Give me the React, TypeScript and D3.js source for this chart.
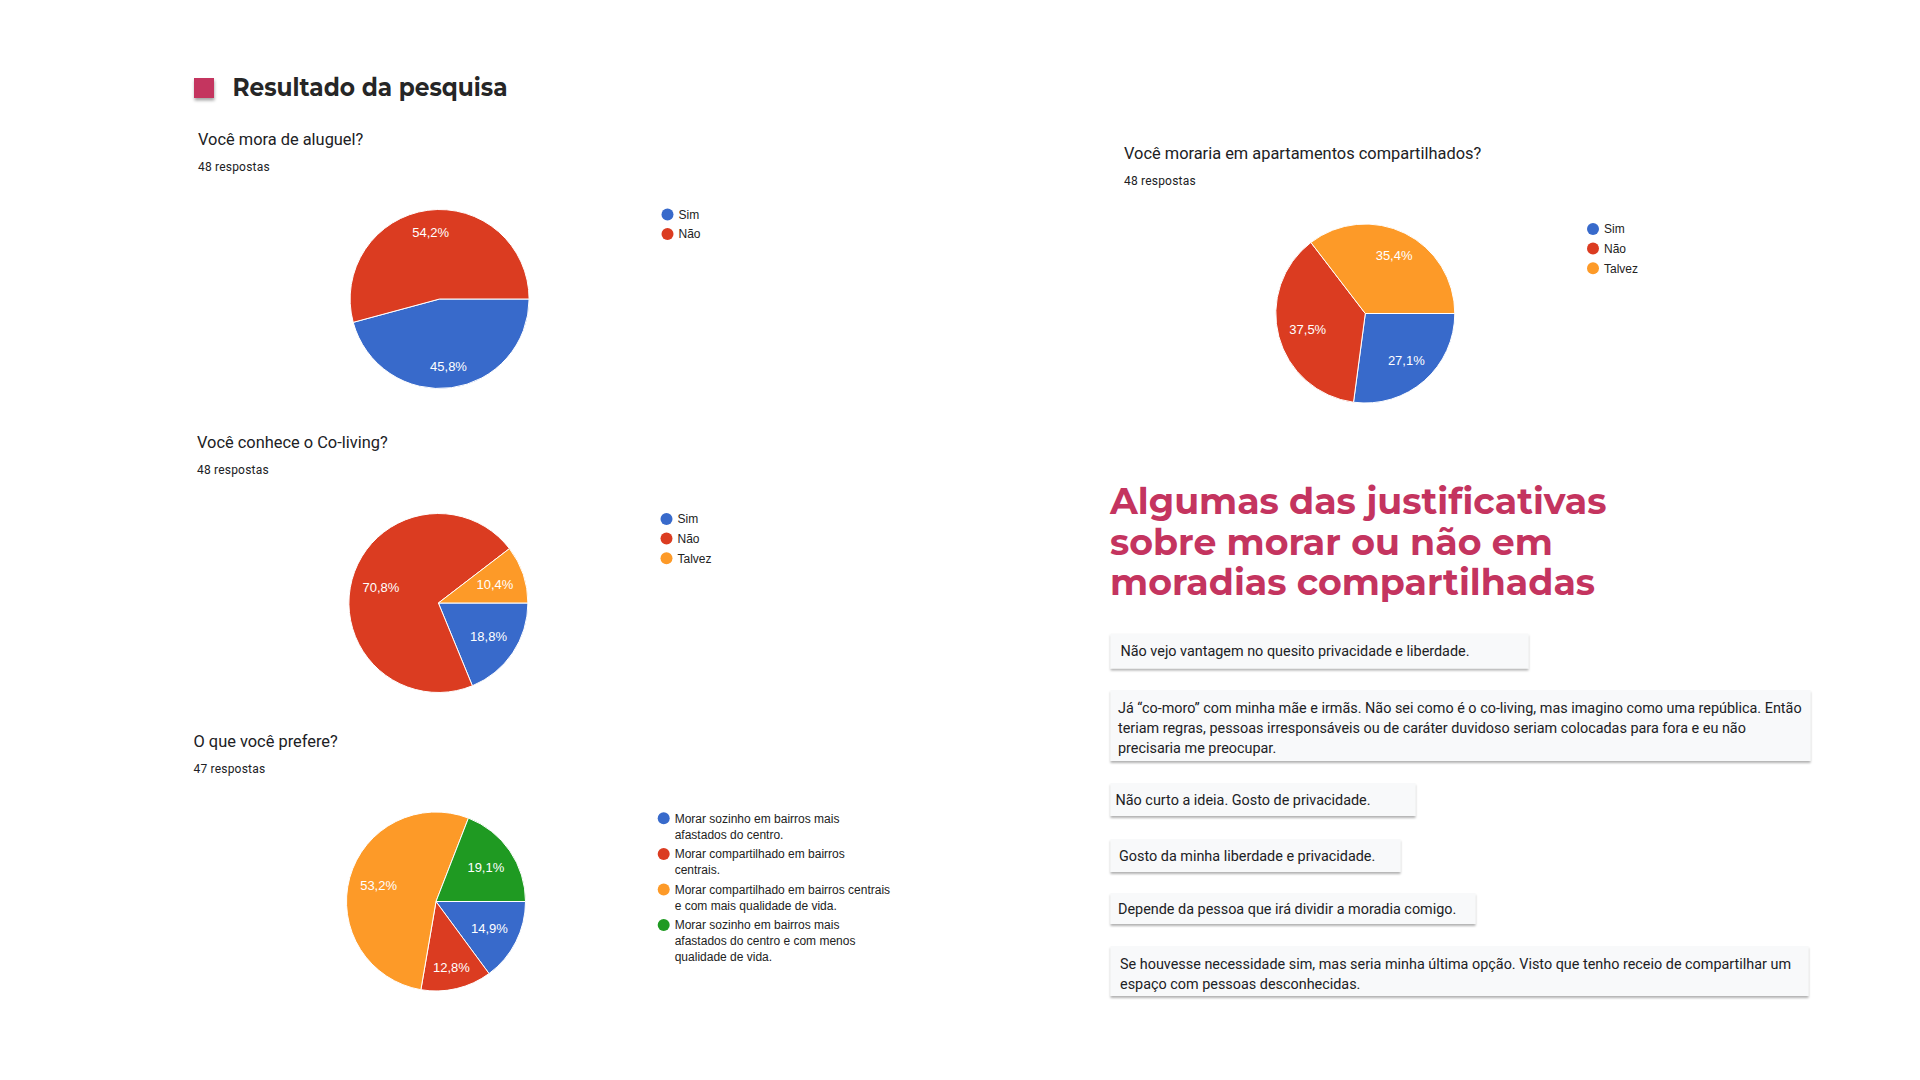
import * as d3 from "d3";
import React, { useEffect, useRef } from "react";

// survey answers, in percent, slice order as Google Forms draws them
const q1Labels = ["Sim", "Não"];
const q1Values = [45.8, 54.2];

const q2Labels = ["Sim", "Não", "Talvez"];
const q2Values = [18.8, 70.8, 10.4];

const q3Labels = [
    ["Morar sozinho em bairros mais", "afastados do centro."],
    ["Morar compartilhado em bairros", "centrais."],
    ["Morar compartilhado em bairros centrais", "e com mais qualidade de vida."],
    ["Morar sozinho em bairros mais", "afastados do centro e com menos", "qualidade de vida."],
];
const q3Values = [14.9, 12.8, 53.2, 19.1];

const q4Labels = ["Sim", "Não", "Talvez"];
const q4Values = [27.1, 37.5, 35.4];

const respostas = [
    ["Não vejo vantagem no quesito privacidade e liberdade."],
    [
        "Já “co-moro” com minha mãe e irmãs. Não sei como é o co-living, mas imagino como uma república. Então",
        "teriam regras, pessoas irresponsáveis ou de caráter duvidoso seriam colocadas para fora e eu não",
        "precisaria me preocupar.",
    ],
    ["Não curto a ideia. Gosto de privacidade."],
    ["Gosto da minha liberdade e privacidade."],
    ["Depende da pessoa que irá dividir a moradia comigo."],
    [
        "Se houvesse necessidade sim, mas seria minha última opção. Visto que tenho receio de compartilhar um",
        "espaço com pessoas desconhecidas.",
    ],
];

const colors = ["#386acb", "#db3c21", "#fd9a28", "#1f9a22"];
const pink = "#c4345f";

function drawPie(svg: any, c: any) {
    const R = 89.5;
    const g = svg.append("g");

    g.append("text")
        .attr("x", c.tx).attr("y", c.ty)
        .attr("font-family", "Roboto, sans-serif").attr("font-size", 16.4)
        .attr("fill", "#202124")
        .text(c.title);
    g.append("text")
        .attr("x", c.tx).attr("y", c.ty + 26)
        .attr("font-family", "Roboto, sans-serif").attr("font-size", 12)
        .attr("letter-spacing", 0.2)
        .attr("fill", "#202124")
        .text(c.n);

    let pie = d3.pie<number>().sort(null)
        .startAngle(Math.PI / 2)
        .endAngle(Math.PI / 2 + 2 * Math.PI);
    let arcs = pie(c.values);
    let arc = d3.arc<any>().innerRadius(0).outerRadius(R);

    // labels sit a bit further out when the slice points up or down
    function labelPos(d: any) {
        let a = (d.startAngle + d.endAngle) / 2;
        let k = R * (0.665 + 0.095 * Math.pow(Math.cos(a), 4));
        return [Math.sin(a) * k, -Math.cos(a) * k];
    }

    let pg = g.append("g").attr("transform", "translate(" + c.cx + "," + c.cy + ")");
    pg.selectAll("path").data(arcs).enter().append("path")
        .attr("d", arc)
        .attr("fill", (d: any, i: number) => colors[i])
        .attr("stroke", "#fff").attr("stroke-width", 1);
    pg.selectAll("text").data(arcs).enter().append("text")
        .attr("transform", (d: any) => "translate(" + labelPos(d) + ")")
        .attr("text-anchor", "middle").attr("dy", "0.36em")
        .attr("font-family", "'Liberation Sans', Arial, sans-serif").attr("font-size", 13)
        .attr("fill", "#fff")
        .text((d: any) => d.data.toFixed(1).replace(".", ",") + "%");

    // legend
    let y = c.ly;
    c.labels.forEach((lab: any, i: number) => {
        let lines = Array.isArray(lab) ? lab : [lab];
        g.append("circle").attr("cx", c.lx).attr("cy", y).attr("r", 6).attr("fill", colors[i]);
        let t = g.append("text")
            .attr("x", c.lx + 11).attr("y", y + 4.3)
            .attr("font-family", "'Liberation Sans', Arial, sans-serif").attr("font-size", 12)
            .attr("fill", "#222");
        lines.forEach((l: string, j: number) => {
            t.append("tspan").attr("x", c.lx + 11).attr("dy", j == 0 ? 0 : 16).text(l);
        });
        y += lines.length * 16 + 3.6;
    });
}

export default function App() {
    const ref = useRef<SVGSVGElement>(null);

    useEffect(() => {
        const svg = d3.select(ref.current);
        svg.selectAll("*").remove();

        let defs = svg.append("defs");
        defs.append("filter").attr("id", "cardShadow")
            .attr("x", "-5%").attr("y", "-20%").attr("width", "110%").attr("height", "150%")
            .append("feDropShadow")
            .attr("dx", 0).attr("dy", 2).attr("stdDeviation", 1.3)
            .attr("flood-color", "#000").attr("flood-opacity", 0.3);
        defs.append("filter").attr("id", "sqShadow")
            .attr("x", "-30%").attr("y", "-30%").attr("width", "170%").attr("height", "170%")
            .append("feDropShadow")
            .attr("dx", 0.5).attr("dy", 2.5).attr("stdDeviation", 1.5)
            .attr("flood-color", "#000").attr("flood-opacity", 0.35);

        svg.append("rect").attr("width", 1920).attr("height", 1080).attr("fill", "#fff");

        // header
        svg.append("rect").attr("x", 194).attr("y", 78).attr("width", 20).attr("height", 20)
            .attr("fill", pink).attr("filter", "url(#sqShadow)");
        svg.append("text").attr("x", 232.5).attr("y", 96)
            .attr("font-family", "Montserrat, 'Open Sans', sans-serif").attr("font-weight", 700)
            .attr("font-size", 24.5).attr("fill", "#262626")
            .attr("textLength", 275).attr("lengthAdjust", "spacingAndGlyphs")
            .text("Resultado da pesquisa");

        const charts = [
            { title: "Você mora de aluguel?", n: "48 respostas", labels: q1Labels, values: q1Values, tx: 198, ty: 144.5, cx: 439.6, cy: 299, lx: 667.5, ly: 214.5 },
            { title: "Você conhece o Co-living?", n: "48 respostas", labels: q2Labels, values: q2Values, tx: 197, ty: 448, cx: 438.4, cy: 603, lx: 666.5, ly: 519 },
            { title: "O que você prefere?", n: "47 respostas", labels: q3Labels, values: q3Values, tx: 193.5, ty: 747, cx: 436, cy: 901.5, lx: 663.7, ly: 818.3 },
            { title: "Você moraria em apartamentos compartilhados?", n: "48 respostas", labels: q4Labels, values: q4Values, tx: 1124, ty: 159, cx: 1365.3, cy: 313.5, lx: 1593, ly: 229 },
        ];
        charts.forEach(c => drawPie(svg, c));

        // justificativas
        const heading = ["Algumas das justificativas", "sobre morar ou não em", "moradias compartilhadas"];
        let h = svg.append("text")
            .attr("font-family", "Montserrat, 'Open Sans', sans-serif").attr("font-weight", 700)
            .attr("font-size", 36.3).attr("fill", pink);
        heading.forEach((l, i) => {
            h.append("tspan").attr("x", 1110).attr("y", 514.3 + i * 40.3).text(l);
        });

        const cards = [
            { y: 633.5, w: 418, h: 35, pad: 10 },
            { y: 690, w: 700, h: 71, pad: 7.5 },
            { y: 783, w: 305, h: 33, pad: 5 },
            { y: 839, w: 290, h: 33, pad: 8.5 },
            { y: 893, w: 365, h: 31, pad: 7.5 },
            { y: 946, w: 698, h: 50, pad: 9.5 },
        ];
        respostas.forEach((lines, i) => {
            let c = cards[i];
            svg.append("rect")
                .attr("x", 1110.5).attr("y", c.y).attr("width", c.w).attr("height", c.h)
                .attr("fill", "#f8f9fa").attr("filter", "url(#cardShadow)");
            let t = svg.append("text")
                .attr("font-family", "Roboto, sans-serif").attr("font-size", 14.4)
                .attr("fill", "#202124");
            let y0 = c.y + c.h / 2 + 5 - (lines.length - 1) * 10 + (lines.length > 1 ? 2.5 : 0);
            lines.forEach((l, j) => {
                t.append("tspan").attr("x", 1110.5 + c.pad).attr("y", y0 + j * 20).text(l);
            });
        });
    }, []);

    return <svg ref={ref} width={1920} height={1080}
        style={{ position: "absolute", left: 0, top: 0, display: "block" }}></svg>;
}
